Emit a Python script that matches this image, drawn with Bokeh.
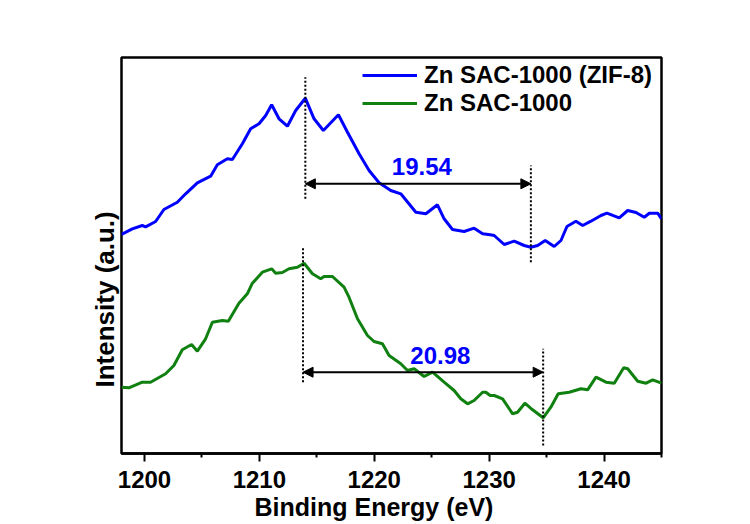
from bokeh.plotting import figure
from bokeh.models import (Range1d, FixedTicker, Title, Legend, LegendItem, Arrow,
                          NormalHead)
from bokeh.embed import file_html
from bokeh.resources import INLINE
from bokeh.core.properties import value

# ---- data ----
zif_energy = [1198.0, 1198.94, 1199.81, 1200.1, 1200.97, 1201.69, 1202.86, 1203.58, 1204.6,
              1205.76, 1206.34, 1207.21, 1207.65, 1208.52, 1209.24, 1209.97, 1210.55, 1211.07,
              1211.71, 1212.44, 1213.16, 1214.0, 1214.76, 1215.57, 1216.88, 1217.67, 1218.68,
              1219.55, 1220.42, 1221.44, 1222.31, 1223.62, 1224.49, 1225.5, 1226.08, 1226.81,
              1227.82, 1228.69, 1229.43, 1230.09, 1230.44, 1231.31, 1232.18, 1233.05, 1233.63,
              1234.22, 1234.88, 1235.66, 1236.25, 1236.77, 1237.55, 1238.14, 1238.86, 1239.73,
              1240.25, 1241.32, 1242.06, 1242.78, 1243.5, 1243.94, 1244.67, 1245.0]
zif_intensity = [219, 224.7, 228, 226.7, 232, 244, 251.3, 259.7, 270.7,
                 277.3, 288.7, 294.7, 294, 309.7, 324.7, 329.7, 338, 348.7,
                 334.7, 327.3, 343, 355.3, 334.7, 323, 338.7, 321.3, 299.7,
                 283, 270.7, 263, 259.7, 241.3, 239.7, 248.7, 234.7, 224,
                 222, 225.3, 219.7, 218.7, 218, 209, 212.3, 208, 206.3,
                 208, 213, 207, 213, 227, 232.3, 228, 232.3, 238,
                 240.3, 235.7, 243, 241, 236.3, 240.3, 240.3, 234.7]

sac_energy = [1198.0, 1198.64, 1199.81, 1200.53, 1201.84, 1202.56, 1203.29, 1204.10, 1204.6,
              1205.32, 1205.91, 1206.78, 1207.3, 1208.22, 1208.95, 1209.39, 1210.26, 1211.07,
              1211.42, 1212.0, 1212.58, 1213.31, 1213.89, 1214.62, 1215.34, 1215.63, 1216.36,
              1217.37, 1217.8, 1218.54, 1219.41, 1219.98, 1220.71, 1221.29, 1222.31, 1222.89,
              1223.47, 1224.34, 1225.07, 1226.08, 1226.95, 1227.53, 1228.12, 1228.69, 1229.43,
              1229.71, 1230.09, 1230.44, 1231.17, 1232.04, 1232.47, 1233.11, 1233.78, 1234.7,
              1235.37, 1236.01, 1236.97, 1237.99, 1238.57, 1239.3, 1240.17, 1240.89, 1241.71,
              1242.06, 1242.93, 1243.66, 1244.23, 1245.0]
sac_intensity = [66.3, 65.7, 71.3, 71.3, 79.7, 88, 103.7, 109, 102.3,
                 114.7, 131.3, 133, 132.3, 150.3, 159.7, 170.3, 181.3, 184.7,
                 180.3, 181, 184.7, 186.3, 190.3, 179.7, 174.7, 177, 177,
                 166.3, 156.3, 134.7, 118, 112, 109.7, 98, 89.7, 83,
                 84.7, 77, 81.3, 71.3, 63, 54.7, 49.7, 53, 61.3,
                 61.3, 58, 58, 54.7, 39.7, 41.3, 50.3, 43.7, 35.7,
                 46.3, 59.7, 61.3, 64.7, 63.7, 76.3, 71.3, 70.3, 85.7,
                 84.7, 72.3, 70.3, 73.7, 70.3]

series_names = ["Zn SAC-1000 (ZIF-8)", "Zn SAC-1000"]
major_ticks = [1200, 1210, 1220, 1230, 1240]
minor_ticks = [1205, 1215, 1225, 1235, 1245]

# annotation values
zif_start, zif_end, zif_gap = 1214.0, 1233.63, "19.54"
sac_start, sac_end, sac_gap = 1213.8, 1234.7, "20.98"
marker_x = [zif_start, zif_end, sac_start, sac_end]
marker_y0 = [254.7, 191.3, 71.3, 8.0]
marker_y1 = [376.3, 288.0, 205.3, 104.7]
arrow_y = [269.7, 81.3]
gap_label_x = [1224.14, 1225.75]
gap_label_y = [287.0, 98.0]
gap_labels = [zif_gap, sac_gap]

FONT = "Liberation Sans"
BLUE = "#0000ff"
GREEN = "#108010"

p = figure(width=750, height=524, output_backend="svg", toolbar_location=None,
           x_range=Range1d(1198.0, 1245.0), y_range=Range1d(0, 396),
           min_border_left=121, min_border_right=89, min_border_top=57, min_border_bottom=71)
p.background_fill_color = "white"
p.border_fill_color = "white"
p.outline_line_color = "black"
p.outline_line_width = 2.5
p.grid.visible = False
p.yaxis.visible = False

xa = p.xaxis[0]
xa.ticker = FixedTicker(ticks=major_ticks, minor_ticks=minor_ticks)
xa.axis_line_width = 2.5
xa.major_tick_in = 0
xa.major_tick_out = 8
xa.minor_tick_in = 0
xa.minor_tick_out = 4
xa.major_tick_line_width = 2
xa.minor_tick_line_width = 2
xa.major_label_text_font = FONT
xa.major_label_text_font_style = "bold"
xa.major_label_text_font_size = "24px"
xa.major_label_text_color = "black"
xa.major_label_standoff = 9

r1 = p.line(zif_energy, zif_intensity, line_color=BLUE, line_width=3)
r2 = p.line(sac_energy, sac_intensity, line_color=GREEN, line_width=3)

# dotted markers
p.segment(x0=marker_x, y0=marker_y0, x1=marker_x, y1=marker_y1,
          line_color="black", line_width=2, line_dash="2 2")

# double arrows
for (a, b, y) in [(zif_start, zif_end, arrow_y[0]), (sac_start, sac_end, arrow_y[1])]:
    p.add_layout(Arrow(x_start=a, y_start=y, x_end=b, y_end=y, line_width=2, line_color="black",
                       start=NormalHead(size=10, fill_color="black", line_color="black"),
                       end=NormalHead(size=10, fill_color="black", line_color="black")))

p.text(x=gap_label_x, y=gap_label_y, text=gap_labels, text_color=BLUE,
       text_font=value(FONT), text_font_style="bold", text_font_size="24px",
       text_align="center", text_baseline="alphabetic")

legend = Legend(items=[LegendItem(label=series_names[0], renderers=[r1]),
                       LegendItem(label=series_names[1], renderers=[r2])],
                location=(241, 336), orientation="vertical")
legend.border_line_color = None
legend.background_fill_alpha = 0
legend.padding = 0
legend.margin = 0
legend.spacing = 0
legend.glyph_width = 55
legend.glyph_height = 28
legend.label_height = 28
legend.label_standoff = 7
legend.label_text_font = FONT
legend.label_text_font_style = "bold"
legend.label_text_font_size = "24px"
legend.label_text_color = "black"
p.add_layout(legend, "center")

ytitle = Title(text="Intensity (a.u.)", align="left", offset=66, standoff=3,
               text_font=FONT, text_font_style="bold", text_font_size="26px", text_color="black")
p.add_layout(ytitle, "left")
xtitle = Title(text="Binding Energy (eV)", align="left", offset=133, standoff=0,
               text_font=FONT, text_font_style="bold", text_font_size="25px", text_color="black")
p.add_layout(xtitle, "below")

open("out.html", "w").write(file_html(p, INLINE))
